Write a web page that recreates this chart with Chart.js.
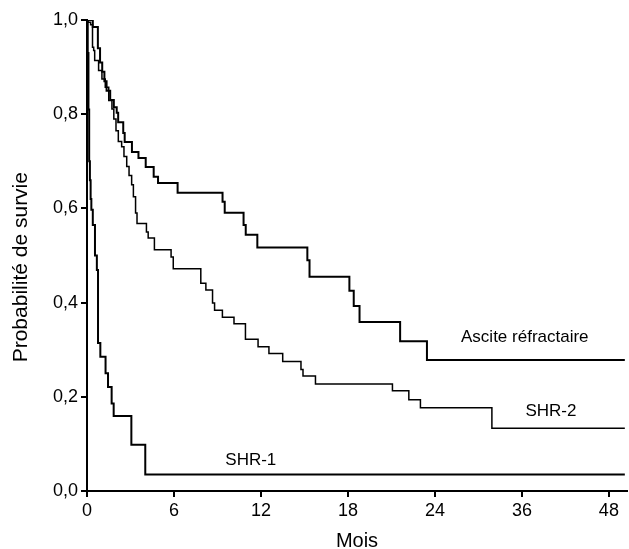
<!DOCTYPE html>
<html>
<head>
<meta charset="utf-8">
<script src="https://cdn.jsdelivr.net/npm/chart.js@4/dist/chart.umd.min.js"></script>
<style>
  html, body { margin: 0; padding: 0; background: #fff; }
  #wrap { width: 629px; height: 549px; }
</style>
</head>
<body>
<div id="wrap"><canvas id="survie"></canvas></div>
<script>
// courbes de Kaplan-Meier : mois où la survie change et nouvelle probabilité
const asciteMois = [0, 0.4, 0.75, 0.9, 1.05, 1.2, 1.35, 1.6, 1.85, 2.05, 2.15, 2.5, 2.6, 3.1, 3.55, 4.05, 4.6, 4.9, 6.25, 9.35, 9.5, 10.8, 10.95, 11.75, 15.2, 15.35, 18.1, 18.4, 18.8, 21.6, 23.45, 50.2];
const asciteSurvie = [1.0, 0.985, 0.94, 0.91, 0.89, 0.87, 0.85, 0.83, 0.815, 0.803, 0.783, 0.76, 0.741, 0.72, 0.707, 0.688, 0.667, 0.654, 0.633, 0.614, 0.591, 0.565, 0.544, 0.517, 0.49, 0.455, 0.425, 0.393, 0.359, 0.318, 0.278, 0.278];

const shr2Mois = [0, 0.07, 0.25, 0.38, 0.46, 0.53, 0.8, 1.03, 1.26, 1.5, 1.72, 1.85, 2.0, 2.16, 2.39, 2.55, 2.74, 2.9, 3.08, 3.2, 3.35, 3.45, 4.1, 4.22, 4.65, 5.8, 5.95, 7.85, 8.2, 8.66, 8.8, 9.34, 10.14, 10.93, 11.8, 12.55, 13.5, 14.76, 14.9, 15.76, 21.07, 22.2, 23.0, 31.86, 50.2];
const shr2Survie = [1.0, 0.995, 0.99, 0.942, 0.935, 0.914, 0.893, 0.875, 0.857, 0.829, 0.811, 0.79, 0.765, 0.742, 0.731, 0.71, 0.689, 0.67, 0.65, 0.625, 0.59, 0.568, 0.55, 0.537, 0.512, 0.497, 0.472, 0.441, 0.427, 0.399, 0.384, 0.369, 0.355, 0.322, 0.306, 0.292, 0.275, 0.258, 0.244, 0.227, 0.213, 0.194, 0.177, 0.133, 0.133];

const shr1Mois = [0, 0.05, 0.1, 0.15, 0.2, 0.25, 0.3, 0.4, 0.55, 0.68, 0.76, 0.92, 1.28, 1.45, 1.7, 1.84, 3.06, 4.02, 50.2];
const shr1Survie = [1.0, 0.93, 0.81, 0.70, 0.66, 0.62, 0.597, 0.565, 0.50, 0.469, 0.314, 0.285, 0.25, 0.221, 0.186, 0.159, 0.098, 0.035, 0.035];

// graduations de l'axe des mois (espacées régulièrement, pas linéaires)
const xTickMois = [0, 6, 12, 18, 24, 36, 48];
const xMaxMois = 50.5;
const yTicks = [0, 0.2, 0.4, 0.6, 0.8, 1.0];

const courbeNoms = ["Ascite réfractaire", "SHR-2", "SHR-1"];
const nomMois = [36.4, 40, 11.3];
const nomSurvie = [0.327, 0.17, 0.066];

const police = "'Liberation Sans', Arial, sans-serif";

// mois -> position sur l'axe (un cran par graduation)
function versAxe(m) {
  const n = xTickMois.length;
  for (let i = 0; i < n - 1; i++) {
    if (m <= xTickMois[i + 1]) {
      return i + (m - xTickMois[i]) / (xTickMois[i + 1] - xTickMois[i]);
    }
  }
  const last = xTickMois[n - 1] - xTickMois[n - 2];
  return n - 1 + (m - xTickMois[n - 1]) / last;
}

function points(mois, survie) {
  return mois.map((m, i) => ({ x: versAxe(m), y: survie[i] }));
}

const nomsPlugin = {
  id: "noms",
  afterDatasetsDraw(chart) {
    const ctx = chart.ctx;
    ctx.save();
    ctx.fillStyle = "#000";
    ctx.font = "17px " + police;
    ctx.textAlign = "center";
    ctx.textBaseline = "middle";
    courbeNoms.forEach((nom, i) => {
      const x = chart.scales.x.getPixelForValue(versAxe(nomMois[i]));
      const y = chart.scales.y.getPixelForValue(nomSurvie[i]);
      ctx.fillText(nom, x, y);
    });
    ctx.restore();
  }
};

const ctx = document.getElementById("survie").getContext("2d");
new Chart(ctx, {
  type: "line",
  data: {
    datasets: [
      { label: courbeNoms[0], data: points(asciteMois, asciteSurvie), borderColor: "#000", borderWidth: 2, stepped: true, pointRadius: 0, fill: false },
      { label: courbeNoms[1], data: points(shr2Mois, shr2Survie), borderColor: "#000", borderWidth: 1.5, stepped: true, pointRadius: 0, fill: false },
      { label: courbeNoms[2], data: points(shr1Mois, shr1Survie), borderColor: "#000", borderWidth: 2, stepped: true, pointRadius: 0, fill: false }
    ]
  },
  options: {
    responsive: true,
    maintainAspectRatio: false,
    animation: false,
    layout: { padding: { top: 20, right: 2, left: 0, bottom: 0 } },
    plugins: { legend: { display: false }, tooltip: { enabled: false } },
    scales: {
      x: {
        type: "linear",
        min: 0,
        max: versAxe(xMaxMois),
        border: { display: true, color: "#000", width: 2 },
        grid: { drawOnChartArea: false, drawTicks: true, tickLength: 6, color: "#000", lineWidth: 2 },
        ticks: {
          stepSize: 1,
          includeBounds: false,
          padding: 3,
          color: "#000",
          font: { family: police, size: 18 },
          callback: (v) => (Number.isInteger(v) && v < xTickMois.length ? String(xTickMois[v]) : "")
        },
        title: {
          display: true,
          text: "Mois",
          color: "#000",
          padding: { top: 0, bottom: -4 },
          font: { family: police, size: 20 }
        },
        afterFit: (s) => { s.height = 58; }
      },
      y: {
        min: 0,
        max: 1,
        border: { display: true, color: "#000", width: 2 },
        grid: { drawOnChartArea: false, drawTicks: true, tickLength: 6, color: "#000", lineWidth: 2 },
        afterBuildTicks: (s) => { s.ticks = yTicks.map((v) => ({ value: v })); },
        ticks: {
          padding: 3,
          color: "#000",
          font: { family: police, size: 18 },
          callback: (v) => v.toFixed(1).replace(".", ",")
        },
        title: {
          display: true,
          text: "Probabilité de survie    ",
          color: "#000",
          padding: { top: 9, bottom: 0 },
          font: { family: police, size: 21 }
        },
        afterFit: (s) => { s.width = 87; }
      }
    }
  },
  plugins: [nomsPlugin]
});
</script>
</body>
</html>
